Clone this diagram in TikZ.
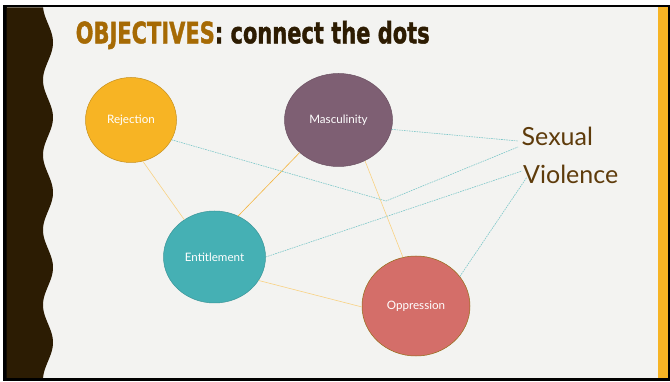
\documentclass[tikz,border=0pt]{standalone}
\usepackage{fontspec}
\usepackage{graphicx}
\setmainfont{Lato}
\newfontfamily\titlefont{DejaVu Sans}[BoldFeatures={FakeBold=1.6}]
\usetikzlibrary{shapes.geometric}
\definecolor{bgc}{HTML}{F3F3F1}
\definecolor{band}{HTML}{2C1C03}
\definecolor{yel}{HTML}{F7B424}
\definecolor{mascc}{HTML}{7E5F73}
\definecolor{entc}{HTML}{45B0B4}
\definecolor{oppc}{HTML}{D46E69}
\definecolor{svtext}{HTML}{5E3B0B}
\definecolor{titleA}{HTML}{A66A04}
\definecolor{titleB}{HTML}{2D1C02}
\definecolor{lightline}{HTML}{F9D283}
\definecolor{satline}{HTML}{F4B53F}
\definecolor{teal}{HTML}{7CC7C9}
\tikzset{
  blob/.style={ellipse, inner sep=0pt, line width=0.5pt, text=white,
    font=\fontsize{11.6}{13}\selectfont},
  solidlink/.style={draw=lightline, line width=0.6pt},
  dashlink/.style={draw=teal, line width=0.6pt, dash pattern=on 1.6pt off 0.9pt},
  svlabel/.style={text=svtext, font=\fontsize{25}{30}\selectfont, inner sep=0pt, anchor=base west}
}
\begin{document}
\begin{tikzpicture}[x=1pt,y=-1pt]
\useasboundingbox (0,0) rectangle (670,382);
\fill[white] (0,0) rectangle (670,382);
\fill[black] (3,5) rectangle (670,380.7);
\fill[bgc] (6.5,7.5) rectangle (668.3,377.8);
\fill[yel] (658.3,7.5) rectangle (668.3,377.8);
\fill[band] (6.5,7.5) -- plot[domain=7.5:377.8, samples=160, smooth] ({48-5*cos(4.8*(\x-5))}, \x) -- (6.5,377.8) -- cycle;

\node[anchor=base west, inner sep=0pt] (title) at (75.5,43.3)
  {\resizebox{354pt}{\height}{\titlefont\bfseries\fontsize{29.5}{34}\selectfont\textcolor{titleA}{OBJECTIVES}\textcolor{titleB}{: connect the dots}}};

\node[blob, fill=yel, draw=yel!80!black, minimum width=91pt, minimum height=85pt] (rej) at (131,120) {Rejection};
\node[blob, fill=mascc, draw=mascc!85!black, minimum width=108pt, minimum height=93pt] (masc) at (338.5,120) {Masculinity};
\node[blob, fill=entc, draw=entc!85!black, minimum width=102pt, minimum height=92pt] (ent) at (214.5,257) {Entitlement};
\node[blob, fill=oppc, draw=yel!60!black, minimum width=108pt, minimum height=100pt] (opp) at (416,306) {Oppression};

\node[svlabel] (sexual) at (521.5,146) {Sexual};
\node[svlabel] (violence) at (523,184) {Violence};

\coordinate (bend) at (386,201);
\coordinate (sxa) at (518,147);
\coordinate (sxb) at (518,141);
\coordinate (vla) at (522,171);
\coordinate (vlb) at (527,177);

\draw[solidlink] (rej.-74) -- (ent.129);
\draw[solidlink, draw=satline] (masc.220) -- (ent.60);
\draw[solidlink] (masc.-57) -- (opp.105);
\draw[solidlink] (ent.-28) -- (opp.181);

\draw[dashlink] (rej.-26) -- (bend) -- (sxa);
\draw[dashlink] (masc.-10.6) -- (sxb);
\draw[dashlink] (ent.east) -- (vla);
\draw[dashlink] (opp.34) -- (vlb);
\end{tikzpicture}
\end{document}
